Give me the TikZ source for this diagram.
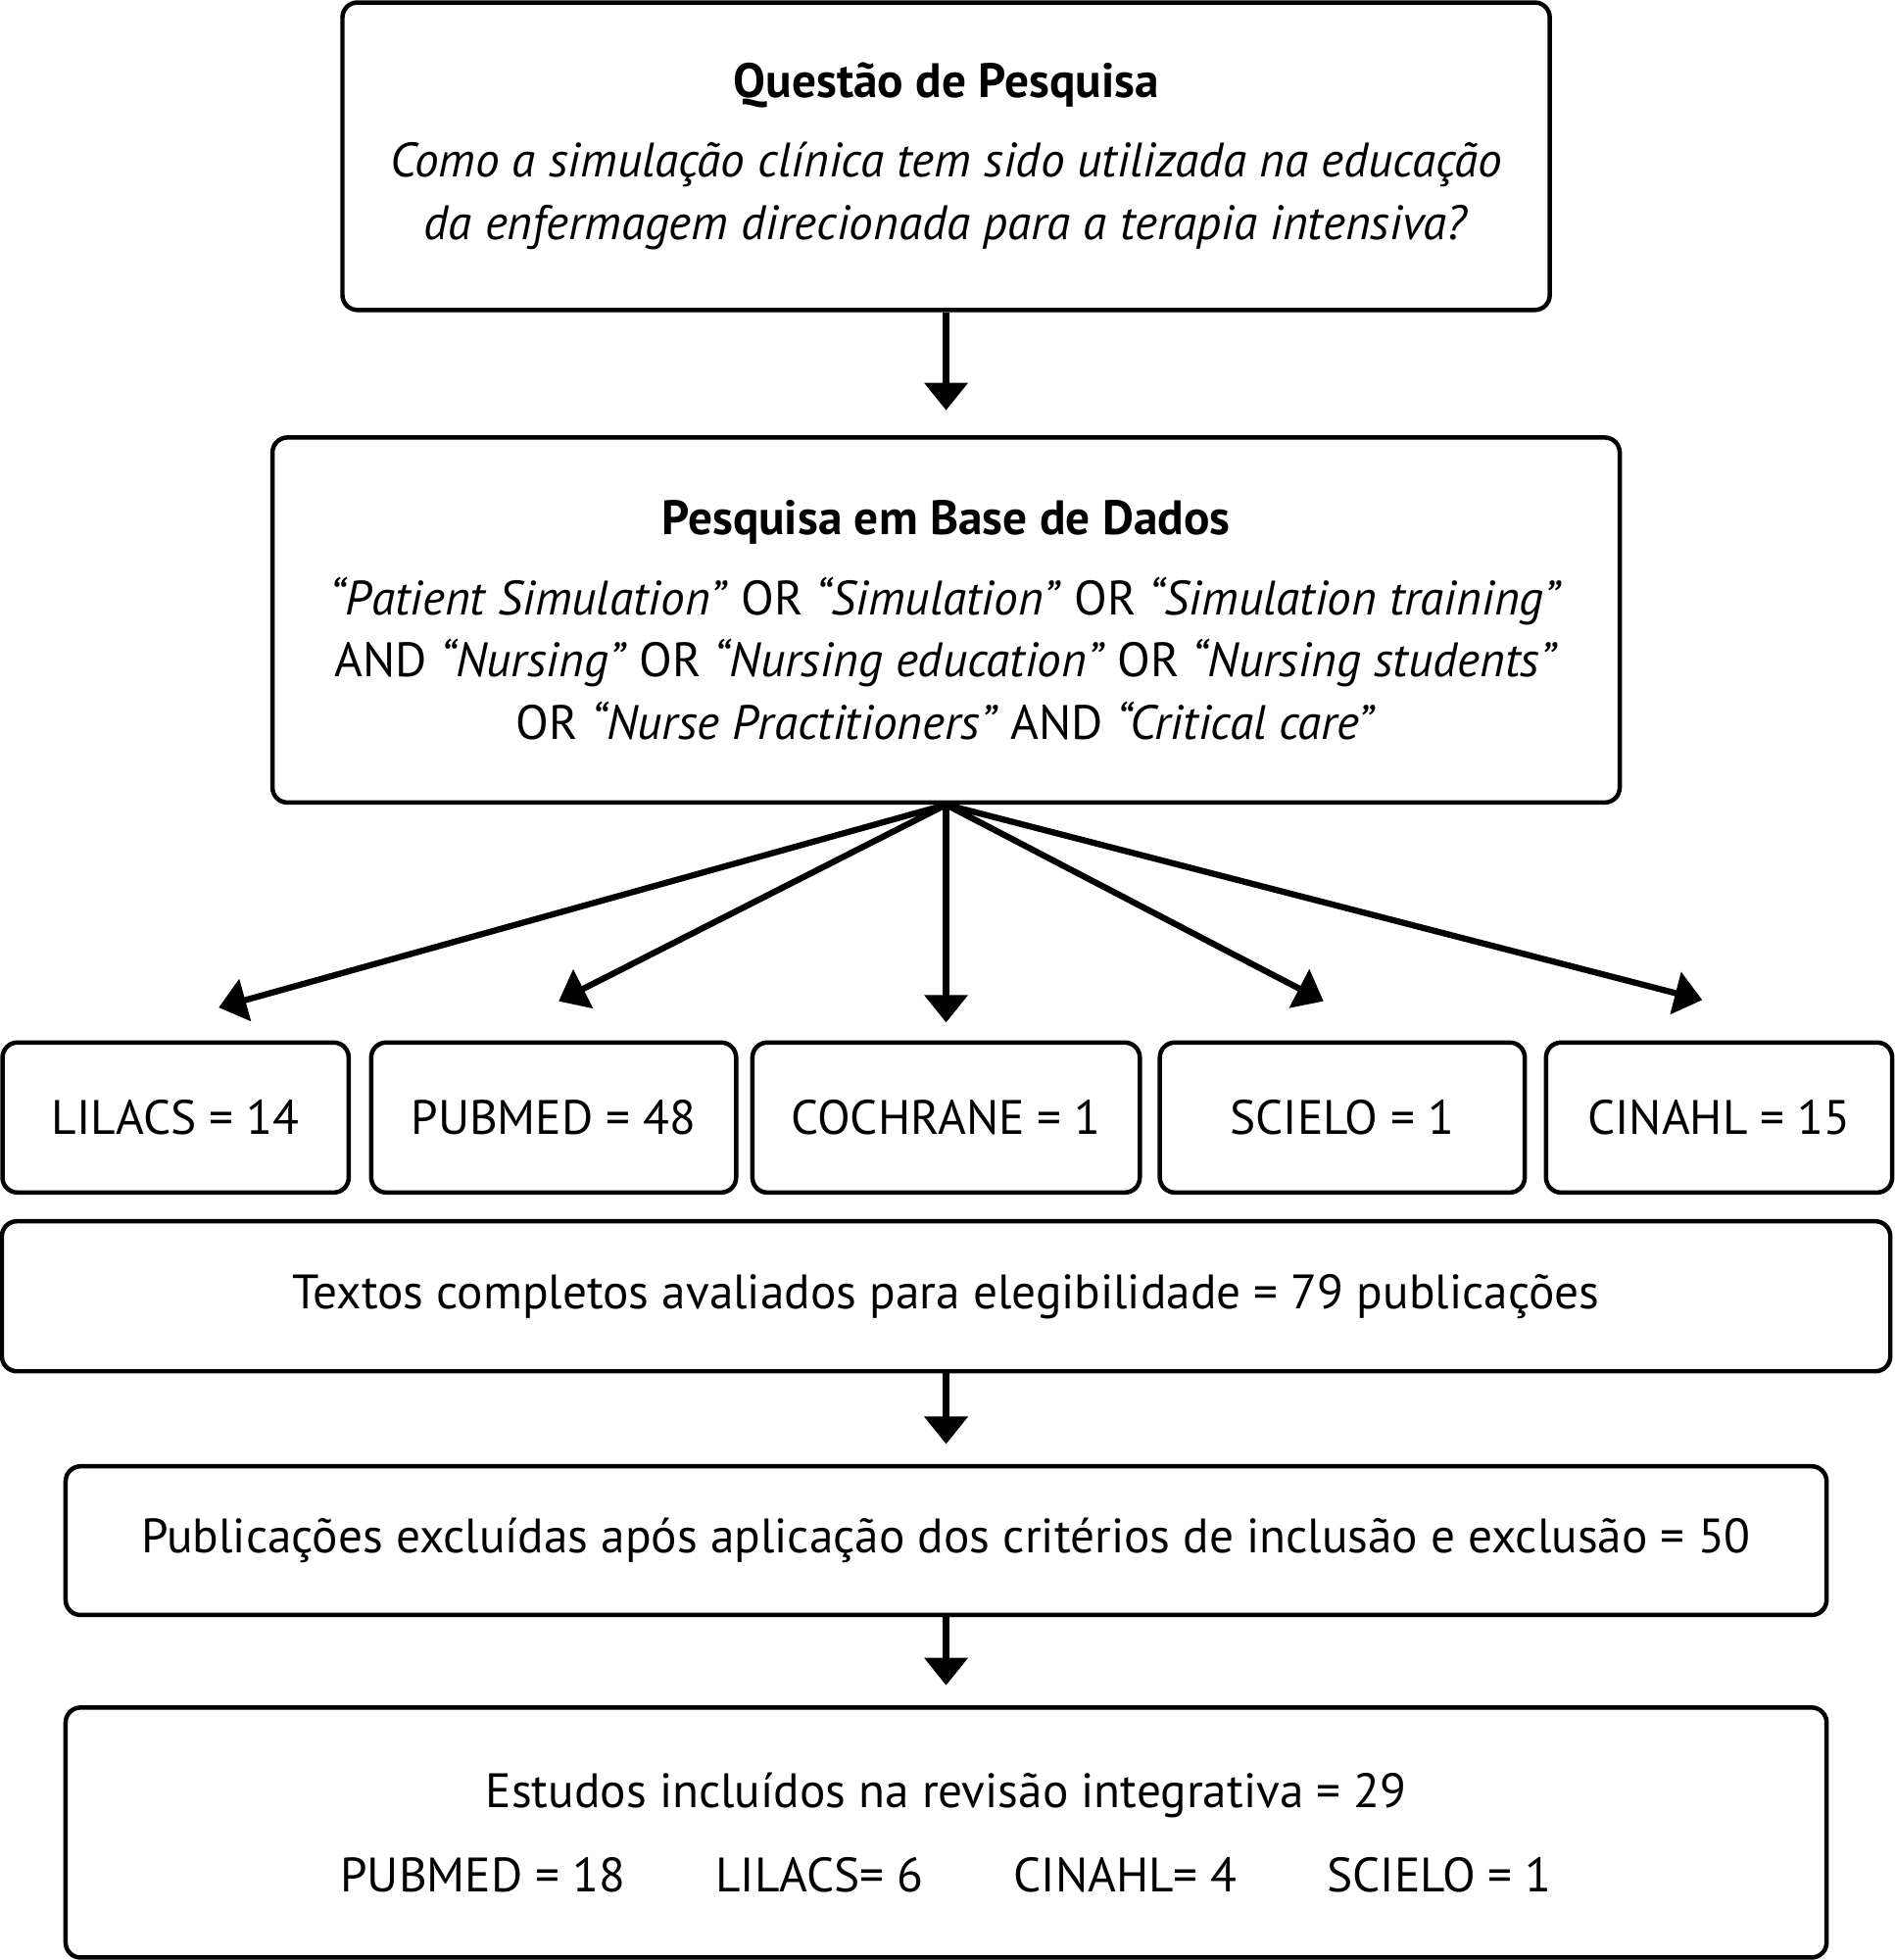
\documentclass[tikz,border=0pt]{standalone}
\usepackage{fontspec}
\setmainfont{PT Sans}
\usetikzlibrary{arrows.meta}
\tikzset{box/.style={draw, line width=1pt, rounded corners=0.12cm, inner sep=0pt,
   align=center, font=\fontsize{11}{14.2}\selectfont},
 base/.style={box, minimum width=2.77cm, minimum height=1.2cm},
 flow/.style={line width=1.4pt, -{Triangle[length=0.22cm,width=0.34cm]}},
 }

\begin{document}
\begin{tikzpicture}
    \useasboundingbox (0,0) rectangle (15.16,-15.68);
    \node[box, minimum width=9.66cm, minimum height=2.46cm] (question) at (7.57,-1.25)
        {\textbf{Questão de Pesquisa}\\[4pt]
         \textit{Como a simulação clínica tem sido utilizada na educação}\\
         \textit{da enfermagem direcionada para a terapia intensiva?}};
    \node[box, minimum width=10.78cm, minimum height=2.92cm] (search) at (7.57,-4.96)
        {\textbf{Pesquisa em Base de Dados}\\[4pt]
         \textit{“Patient Simulation”} OR \textit{“Simulation”} OR \textit{“Simulation training”}\\
         AND \textit{“Nursing”} OR \textit{“Nursing education”} OR \textit{“Nursing students”}\\
         OR \textit{“Nurse Practitioners”} AND \textit{“Critical care”}};
    % bases
    \node[base] (lilacs) at (1.405,-8.94) {LILACS = 14};
    \node[base, minimum width=2.92cm] (pubmed) at (4.43,-8.94) {PUBMED = 48};
    \node[base, minimum width=3.10cm] (cochrane) at (7.57,-8.94) {COCHRANE = 1};
    \node[base, minimum width=2.92cm] (scielo) at (10.74,-8.94) {SCIELO = 1};
    \node[base] (cinahl) at (13.755,-8.94) {CINAHL = 15};
    \node[box, minimum width=15.11cm, minimum height=1.2cm] (fulltext) at (7.57,-10.37)
        {Textos completos avaliados para elegibilidade = 79 publicações};
    \node[box, minimum width=14.09cm, minimum height=1.19cm] (excluded) at (7.57,-12.325)
        {Publicações excluídas após aplicação dos critérios de inclusão e exclusão = 50};
    \node[box, minimum width=14.09cm, minimum height=2.0cm] (included) at (7.57,-14.66)
        {Estudos incluídos na revisão integrativa = 29\\[5pt]
         PUBMED = 18\hspace{0.72cm}LILACS= 6\hspace{0.72cm}CINAHL= 4\hspace{0.72cm}SCIELO = 1};
    % arrow ends
    \coordinate (tLilacs) at (1.75,-8.06);
    \coordinate (tPubmed) at (4.47,-8.01);
    \coordinate (tCochrane) at (7.57,-8.18);
    \coordinate (tScielo) at (10.59,-8.01);
    \coordinate (tCinahl) at (13.62,-8.0);
    \draw[flow, shorten >=0.2cm] (question.south) -- (search.north);
    \foreach \t in {tLilacs, tPubmed, tCochrane, tScielo, tCinahl} {
        \draw[flow] (search.south) -- (\t);
    }
    \draw[flow, shorten >=0.16cm] (fulltext.south) -- (excluded.north);
    \draw[flow, shorten >=0.16cm] (excluded.south) -- (included.north);
\end{tikzpicture}
\end{document}
